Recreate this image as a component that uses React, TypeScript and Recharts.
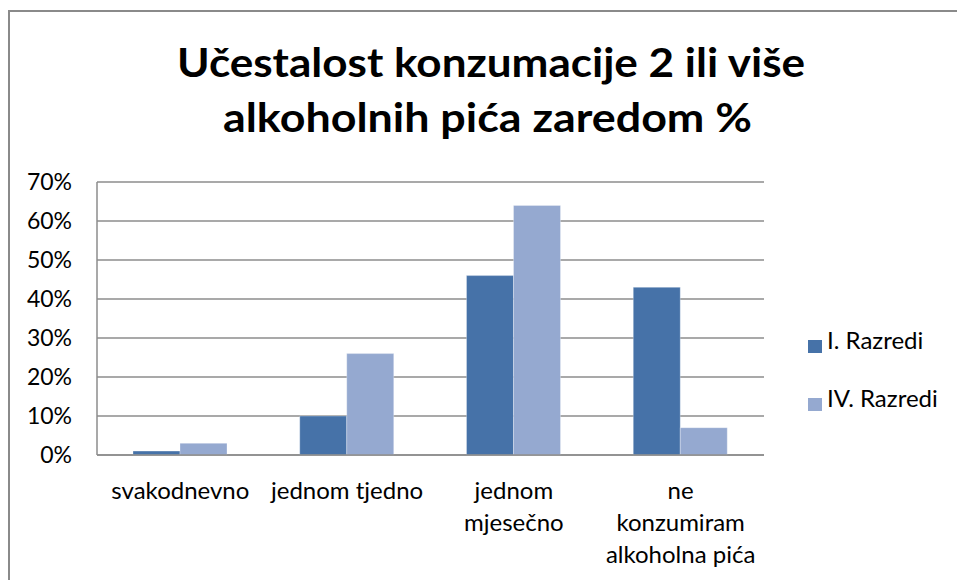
import React from "react";
import { BarChart, Bar, XAxis, YAxis, CartesianGrid } from "recharts";

const titleLines = ["Učestalost konzumacije 2 ili više", "alkoholnih pića zaredom %"];
const categories = ["svakodnevno", "jednom tjedno", "jednom mjesečno", "ne konzumiram alkoholna pića"];
const categoryLabelLines = [["svakodnevno"], ["jednom tjedno"], ["jednom", "mjesečno"], ["ne", "konzumiram", "alkoholna pića"]];
const seriesNames = ["I. Razredi", "IV. Razredi"];
const razrediI = [1, 10, 46, 43];
const razrediIV = [3, 26, 64, 7];
const yTicks = [0, 10, 20, 30, 40, 50, 60, 70];

const colors = ["#4672A8", "#95A9D0"];
const FONT = "Lato, 'Open Sans', sans-serif";

const data = categories.map((c, i) => ({ name: c, s0: razrediI[i], s1: razrediIV[i] }));

const XTick = (props: any) => {
  const { x, y, index } = props;
  const lines = categoryLabelLines[index] || [props.payload.value];
  return (
    <g>
      {lines.map((l: string, k: number) => (
        <text key={k} x={x} y={y + 44 + k * 32} textAnchor="middle" fill="#000" fontSize={24} fontFamily={FONT}>
          {l}
        </text>
      ))}
    </g>
  );
};

const LegendBox = () => (
  <div style={{ position: "absolute", left: 808, top: 333, width: 140, height: 100, fontFamily: FONT, fontSize: 24, color: "#000" }}>
    {seriesNames.map((n, i) => (
      <div key={n} style={{ position: "absolute", left: 0, top: i * 58, height: 30, whiteSpace: "nowrap" }}>
        <span style={{ position: "absolute", left: 0, top: 7, width: 14, height: 13, background: colors[i] }} />
        <span style={{ position: "absolute", left: 19, top: -8, lineHeight: "30px" }}>{n}</span>
      </div>
    ))}
  </div>
);

export default function App() {
  return (
    <div style={{ position: "absolute", left: 0, top: 0, width: 957, height: 580, overflow: "hidden", background: "#fff" }}>
      <div style={{ position: "absolute", left: 8, top: 10, width: 1200, height: 1000, borderLeft: "2.5px solid #8a8a8a", borderTop: "2.5px solid #8a8a8a" }} />
      <svg width={957} height={160} style={{ position: "absolute", left: 0, top: 0 }}>
        <text x={177} y={77} textLength={628} lengthAdjust="spacingAndGlyphs" fontFamily={FONT} fontWeight="bold" fontSize={41} fill="#000">
          {titleLines[0]}
        </text>
        <text x={223} y={132} textLength={529} lengthAdjust="spacingAndGlyphs" fontFamily={FONT} fontWeight="bold" fontSize={41} fill="#000">
          {titleLines[1]}
        </text>
      </svg>
      <div style={{ position: "absolute", left: 0, top: 0 }}>
        <BarChart width={957} height={580} data={data} margin={{ top: 182, right: 193, bottom: 0, left: 0 }} barGap={0}>
          <CartesianGrid horizontal vertical={false} stroke="#8c8c8c" strokeWidth={1.5} />
          <XAxis
            dataKey="name"
            height={125}
            tickLine={false}
            tickSize={0}
            tickMargin={0}
            axisLine={{ stroke: "#8c8c8c", strokeWidth: 1.5 }}
            tick={<XTick />}
            interval={0}
          />
          <YAxis
            width={97}
            domain={[0, 70]}
            ticks={yTicks}
            interval={0}
            tickLine={false}
            tickSize={0}
            tickMargin={25}
            axisLine={{ stroke: "#8c8c8c", strokeWidth: 1.5 }}
            tickFormatter={(v: number) => `${v}%`}
            tick={{ fill: "#000", fontSize: 23, fontFamily: FONT }}
          />
          <Bar dataKey="s0" name={seriesNames[0]} fill={colors[0]} barSize={47} isAnimationActive={false} stroke="rgba(255,255,255,0.3)" strokeWidth={1} />
          <Bar dataKey="s1" name={seriesNames[1]} fill={colors[1]} barSize={47} isAnimationActive={false} stroke="rgba(255,255,255,0.3)" strokeWidth={1} />
        </BarChart>
      </div>
      <LegendBox />
    </div>
  );
}
